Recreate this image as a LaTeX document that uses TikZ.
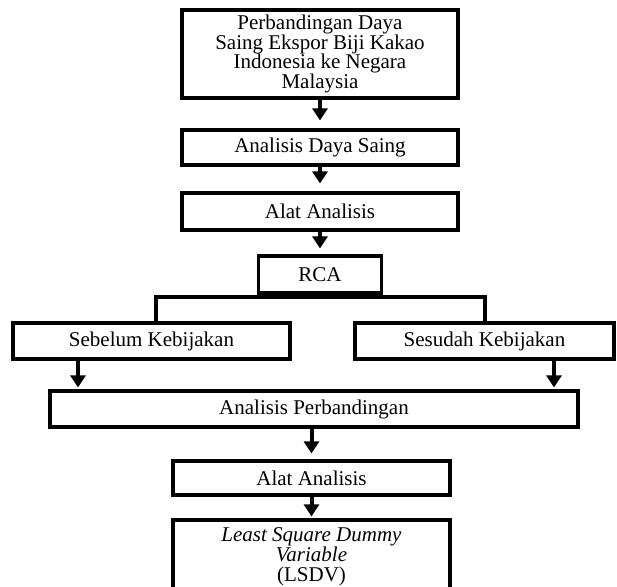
\documentclass[tikz,border=0pt]{standalone}
\usepackage{fontspec}
\setmainfont{Liberation Serif}
\usetikzlibrary{arrows.meta}

\begin{document}
\begin{tikzpicture}
    [x=0.5pt,y=-0.5pt,line width=1.6pt,
     every node/.style={draw,rectangle,inner sep=0pt,align=center,font=\fontsize{10.5}{9.9}\selectfont},
     arr/.style={line width=2pt,-{Triangle[width=7.5pt,length=6pt]}}]
    \useasboundingbox (0,0) rectangle (617,587);
    \node[minimum width=138pt,minimum height=44pt] (n1) at (320,54) {Perbandingan Daya\\Saing Ekspor Biji Kakao\\Indonesia ke Negara\\Malaysia};
    \node[minimum width=138pt,minimum height=17.5pt] (n2) at (320,147.5) {Analisis Daya Saing};
    \node[minimum width=138pt,minimum height=18.5pt] (n3) at (320,211.5) {Alat Analisis};
    \node[minimum width=61.5pt,minimum height=18.5pt] (n4) at (320,274.5) {RCA};
    \node[minimum width=138.5pt,minimum height=18pt] (n5) at (151.5,341) {Sebelum Kebijakan};
    \node[minimum width=129.5pt,minimum height=18pt] (n6) at (484.5,341) {Sesudah Kebijakan};
    \node[minimum width=264pt,minimum height=18pt] (n7) at (314,409) {Analisis Perbandingan};
    \node[minimum width=138.5pt,minimum height=17pt] (n8) at (311.5,478) {Alat Analisis};
    \node[minimum width=138.5pt,minimum height=37pt] (n9) at (311.5,557) {\textit{Least Square Dummy}\\\textit{Variable}\\(LSDV)};
    \coordinate (b1) at (156,297);
    \coordinate (b2) at (485,297);
    \coordinate (c1) at (78,0);
    \coordinate (c2) at (554,0);
    \draw[line width=1.8pt] (n4.south) -- (n4.south |- b1);
    \draw[line width=1.8pt] (b1 |- n5.north) -- (b1) -- (b2) -- (b2 |- n6.north);
    \draw[arr,shorten >=4pt] (n1) -- (n2);
    \draw[arr,shorten >=4pt] (n2) -- (n3);
    \draw[arr,shorten >=3pt] (n3) -- (n4);
    \draw[arr,shorten >=1pt] (c1 |- n5.south) -- (c1 |- n7.north);
    \draw[arr,shorten >=1pt] (c2 |- n6.south) -- (c2 |- n7.north);
    \draw[arr,shorten >=3pt] (n8.north |- n7.south) -- (n8.north);
    \draw[arr,shorten >=1pt] (n8) -- (n9);
\end{tikzpicture}
\end{document}
